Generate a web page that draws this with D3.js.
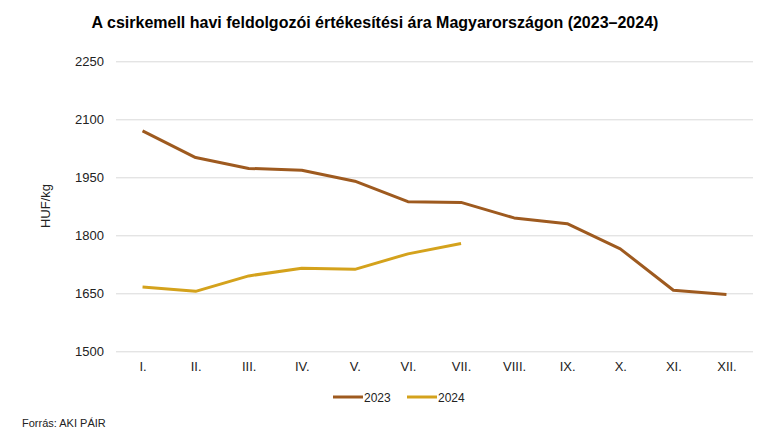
<!DOCTYPE html>
<html><head><meta charset="utf-8">
<script src="https://cdn.jsdelivr.net/npm/d3@7"></script>
<style>body{margin:0;background:#fff}svg{display:block;font-family:"Liberation Sans",Arial,sans-serif}</style>
</head><body><svg id="c" width="774" height="444"></svg>
<script>
const months = ["I.","II.","III.","IV.","V.","VI.","VII.","VIII.","IX.","X.","XI.","XII."];
const values2023 = [2070,2001,1973,1968,1940,1887,1885,1845,1830,1765,1658,1647];
const values2024 = [1666,1655,1695,1715,1712,1752,1779];
const yTicks = [1500,1650,1800,1950,2100,2250];
const seriesNames = ["2023","2024"];
const colors = ["#9E5A1F","#D4A21C"];

(function(){
const svg = d3.select("#c");
const mLeft = 116, mRight = 753, mTop = 61.3, mBottom = 351.3;
const x = d3.scalePoint().domain(months).range([mLeft, mRight]).padding(0.5);
const y = d3.scaleLinear().domain([1500,2250]).range([mBottom, mTop]);

svg.append("text").attr("x",375).attr("y",28).attr("text-anchor","middle")
  .attr("font-size",16).attr("font-weight","bold").attr("fill","#000")
  .text("A csirkemell havi feldolgozói értékesítési ára Magyarországon (2023–2024)");

const yAxis = svg.append("g").attr("transform",`translate(${mLeft},0)`)
  .call(d3.axisLeft(y).tickValues(yTicks).tickSize(-(mRight-mLeft)).tickPadding(12).tickFormat(d3.format("d")));
yAxis.select(".domain").remove();
yAxis.selectAll(".tick line").attr("stroke","#d9d9d9");
yAxis.selectAll(".tick text").attr("font-size",13).attr("fill","#222").attr("font-family","Liberation Sans, Arial, sans-serif");

const xAxis = svg.append("g").attr("transform",`translate(0,${mBottom})`)
  .call(d3.axisBottom(x).tickSize(0).tickPadding(10));
xAxis.select(".domain").remove();
xAxis.selectAll(".tick text").attr("font-size",13).attr("fill","#222").attr("font-family","Liberation Sans, Arial, sans-serif");

svg.append("text").attr("transform","translate(50,206) rotate(-90)").attr("text-anchor","middle")
  .attr("font-size",13).attr("fill","#222").text("HUF/kg");

const line = d3.line().x((d,i)=>x(months[i])).y(d=>y(d));
[values2023, values2024].forEach((vals,k)=>{
  svg.append("path").datum(vals).attr("d",line).attr("fill","none")
    .attr("stroke",colors[k]).attr("stroke-width",3).attr("stroke-linejoin","round");
});

const legX = [333, 407];
seriesNames.forEach((n,k)=>{
  svg.append("line").attr("x1",legX[k]).attr("x2",legX[k]+30).attr("y1",397).attr("y2",397)
    .attr("stroke",colors[k]).attr("stroke-width",3);
  svg.append("text").attr("x",legX[k]+31).attr("y",401.5).attr("font-size",12).attr("fill","#222").text(n);
});

svg.append("text").attr("x",22).attr("y",427).attr("font-size",11).attr("fill","#222").text("Forrás: AKI PÁIR");
})();
</script></body></html>
